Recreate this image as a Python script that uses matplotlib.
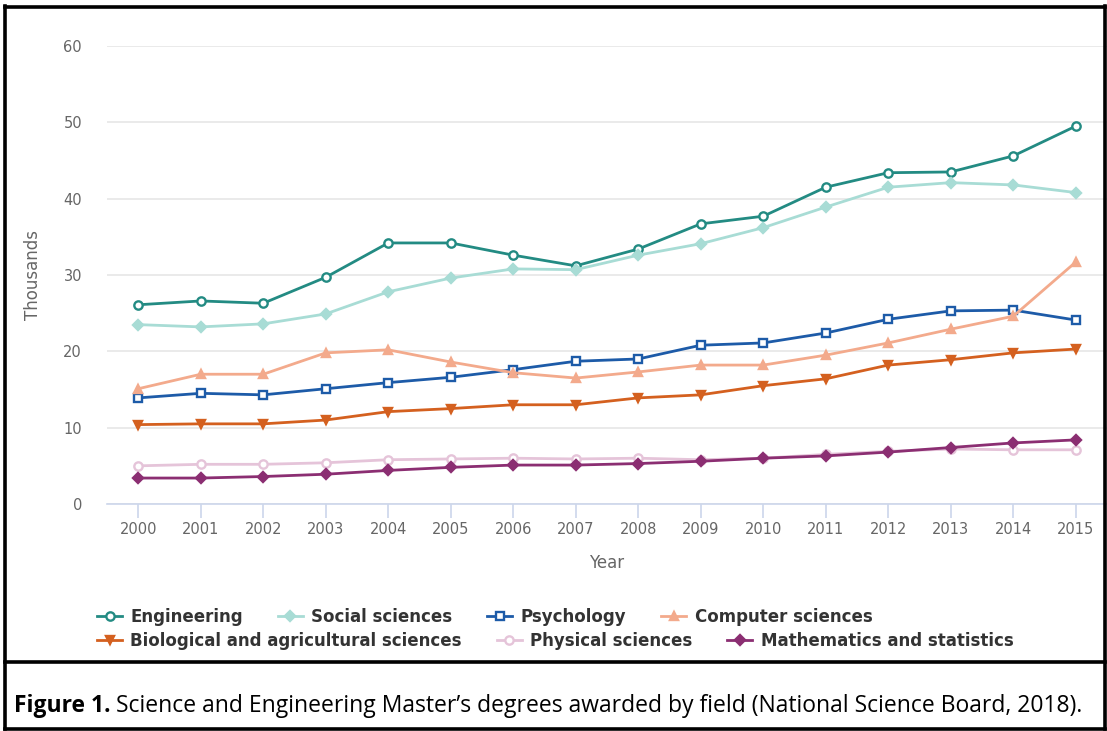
import numpy as np
import matplotlib.pyplot as plt
from matplotlib.lines import Line2D

years = list(range(2000, 2016))

engineering = [26.1, 26.6, 26.3, 29.7, 34.2, 34.2, 32.6, 31.2, 33.4, 36.7, 37.7, 41.5, 43.4, 43.5, 45.6, 49.5]
social = [23.5, 23.2, 23.6, 24.9, 27.8, 29.6, 30.8, 30.7, 32.6, 34.1, 36.2, 38.9, 41.5, 42.1, 41.8, 40.8]
psychology = [13.9, 14.5, 14.3, 15.1, 15.9, 16.6, 17.6, 18.7, 19.0, 20.8, 21.1, 22.4, 24.2, 25.3, 25.4, 24.1]
computer = [15.1, 17.0, 17.0, 19.8, 20.2, 18.6, 17.2, 16.5, 17.3, 18.2, 18.2, 19.5, 21.1, 22.9, 24.6, 31.7]
biological = [10.4, 10.5, 10.5, 11.0, 12.1, 12.5, 13.0, 13.0, 13.9, 14.3, 15.5, 16.4, 18.2, 18.9, 19.8, 20.3]
physical = [5.0, 5.2, 5.2, 5.4, 5.8, 5.9, 6.0, 5.9, 6.0, 5.8, 6.0, 6.5, 6.9, 7.2, 7.1, 7.1]
math_stats = [3.4, 3.4, 3.6, 3.9, 4.4, 4.8, 5.1, 5.1, 5.3, 5.6, 6.0, 6.3, 6.8, 7.4, 8.0, 8.4]

# name, values, colour, marker, filled
series = [
    ("Engineering", engineering, "#238b83", "o", False),
    ("Social sciences", social, "#a8dcd5", "D", True),
    ("Psychology", psychology, "#1d5ba8", "s", False),
    ("Computer sciences", computer, "#f3aa8c", "^", True),
    ("Biological and agricultural sciences", biological, "#d4601f", "v", True),
    ("Physical sciences", physical, "#e5c4d9", "o", False),
    ("Mathematics and statistics", math_stats, "#8b2e72", "D", True),
]

plt.rcParams['font.family'] = ['DejaVu Sans']

W, H = 1107, 731
fig = plt.figure(figsize=(W / 100, H / 100), dpi=100)

ax = fig.add_axes([107 / W, (H - 504) / H, 1000 / W, (504 - 46) / H])

handles = []
for name, vals, col, mk, filled in series:
    ms = 5 if mk == "D" else 6
    ln, = ax.plot(years, vals, color=col, lw=2.0, marker=mk, markersize=ms,
                  markerfacecolor=col if filled else "white",
                  markeredgecolor=col, markeredgewidth=1.7, label=name)
    handles.append(ln)

ax.set_xlim(1999.5, 2015.5)
ax.set_ylim(0, 60)
ax.set_xticks(years)
ax.set_yticks(range(0, 61, 10))
ax.grid(axis='y', color='#e6e6e6', lw=1.2)
ax.set_axisbelow(True)
for s in ['top', 'right', 'left']:
    ax.spines[s].set_visible(False)
ax.spines['bottom'].set_color('#ccd6eb')
ax.spines['bottom'].set_linewidth(1.2)
ax.tick_params(axis='x', colors='#ccd6eb', length=10, width=1.2, labelcolor='#666666',
               labelsize=10.5, pad=3)
ax.tick_params(axis='y', length=0, labelcolor='#666666', labelsize=10.5, pad=18)
ax.set_xlabel("Year", color='#666666', fontsize=12, labelpad=12)
fig.text(33 / W, 1 - 275 / H, "Thousands", rotation=90, color='#666666',
         fontsize=12, ha='center', va='center')

leg_kw = dict(frameon=False, handlelength=1.5, handletextpad=0.5,
              columnspacing=2.1, borderpad=0, borderaxespad=0,
              prop={'weight': 'bold', 'size': 12})
leg1 = fig.legend(handles=handles[:4], ncol=4, loc='center left',
                  bbox_to_anchor=(97 / W, (H - 617) / H), **leg_kw)
leg2 = fig.legend(handles=handles[4:], ncol=3, loc='center left',
                  bbox_to_anchor=(97 / W, (H - 641) / H), **leg_kw)
for lg in (leg1, leg2):
    for t in lg.get_texts():
        t.set_color('#333333')

# outer frame and separator
for xs, ys in [([4.5, 4.5], [6, 729]), ([1104.5, 1104.5], [6, 729]),
               ([4.5, 1104.5], [6.5, 6.5]), ([4.5, 1104.5], [728.5, 728.5]),
               ([4.5, 1104.5], [662, 662])]:
    fig.add_artist(Line2D([x / W for x in xs], [1 - y / H for y in ys],
                          color='black', lw=2.6))

cap_font = ['Open Sans', 'DejaVu Sans']
t1 = fig.text(14 / W, 1 - 706 / H, "Figure 1.", fontsize=16.5, fontweight='bold',
              family=cap_font, va='center', ha='left')
r = fig.canvas.get_renderer()
bb = t1.get_window_extent(renderer=r)
fig.text((bb.x1 + 6) / W, 1 - 706 / H,
         "Science and Engineering Master\u2019s degrees awarded by field (National Science Board, 2018).",
         fontsize=16.5, family=cap_font, va='center', ha='left')

fig.savefig("out.png", dpi=100)
